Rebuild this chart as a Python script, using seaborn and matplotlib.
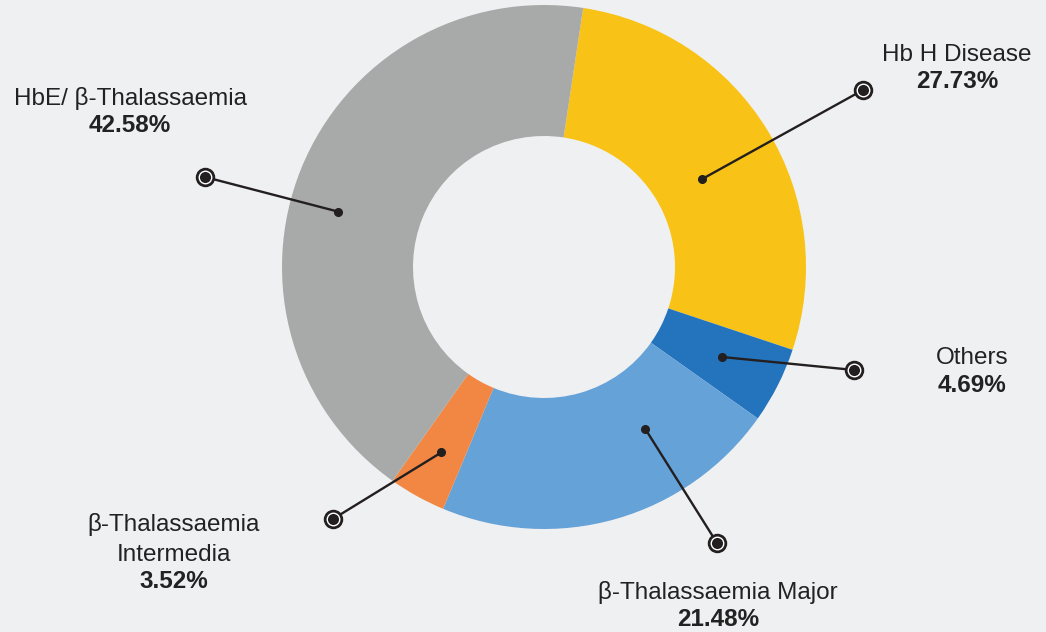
import numpy as np
import matplotlib
matplotlib.use("Agg")
import matplotlib.pyplot as plt
import seaborn as sns

# data
labels = ["Hb H Disease", "Others", "β-Thalassaemia Major",
          "β-Thalassaemia\nIntermedia", "HbE/ β-Thalassaemia"]
shares = [27.73, 4.69, 21.48, 3.52, 42.58]
colors = ["#F8C316", "#2373BD", "#65A2D8", "#F28744", "#A8AAA9"]

# layout (pixel coordinates, y measured from top)
W, H = 1046, 632
center = (544, 267)
radius = 262
ring = 131
start_angle = 81.4
# outer marker position, text anchor, inner dot angle shift and radius
marker_pos = [(863, 90), (854, 370), (717, 543), (333, 519), (205, 177)]
text_pos = [(957, 55), (972, 358), (718, 592), (174, 524), (130, 99)]
dot_shift = [-2.4, 0, 16, 0, 6.9]
dot_r = [181, 199, 191, 212, 213]

sns.set_theme(style="white")
plt.rcParams["font.family"] = ["Liberation Sans", "DejaVu Sans"]

bg = "#EFF0F1"
fig = plt.figure(figsize=(W / 100, H / 100), dpi=100)
fig.patch.set_facecolor(bg)
ax = fig.add_axes([0, 0, 1, 1])
ax.set_facecolor(bg)


def fy(y):
    return H - y


wedges, _ = ax.pie(shares, colors=colors, startangle=start_angle,
                   counterclock=False, center=(center[0], fy(center[1])),
                   radius=radius, frame=True,
                   wedgeprops=dict(width=ring, linewidth=0))

line_col = "#231F20"
for i, w in enumerate(wedges):
    ang = np.deg2rad((w.theta1 + w.theta2) / 2 + dot_shift[i])
    dx = center[0] + dot_r[i] * np.cos(ang)
    dy = fy(center[1]) + dot_r[i] * np.sin(ang)
    mx, my = marker_pos[i][0], fy(marker_pos[i][1])
    ax.plot([dx, mx], [dy, my], color=line_col, lw=1.7, zorder=3)
    ax.plot(dx, dy, "o", ms=5.5, color=line_col, zorder=4)
    ax.plot(mx, my, "o", ms=13, mfc=line_col, mec=line_col, zorder=4)
    ax.plot(mx, my, "o", ms=9, mfc=line_col, mec="white", mew=1.0, zorder=5)

    tx, ty = text_pos[i]
    lines = labels[i].split("\n")
    for k, line in enumerate(lines):
        ax.text(tx, fy(ty + 31 * k), line, ha="center", va="center",
                fontsize=17.5, color="#222222", zorder=6)
    ax.text(tx, fy(ty + 31 * (len(lines) - 1) + 27), f"{shares[i]:.2f}%",
            ha="center", va="center", fontsize=17.5, fontweight="bold",
            color="#222222", zorder=6)

ax.set_xlim(0, W)
ax.set_ylim(0, H)
ax.set_aspect("equal")
ax.axis("off")

fig.savefig("out.png", dpi=100, facecolor=fig.get_facecolor())
